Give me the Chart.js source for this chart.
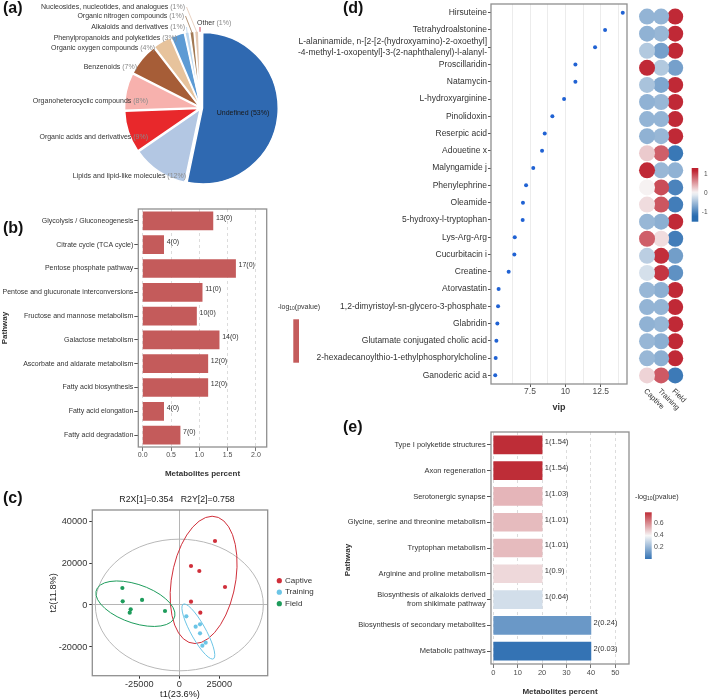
<!DOCTYPE html>
<html lang="en">
<head>
<meta charset="UTF-8">
<title>Metabolite classes, pathways, OPLS-DA scores and VIP</title>
<script src="https://cdn.jsdelivr.net/npm/chart.js"></script>
<style>
    body { margin: 0; background: #fff; }
    #figure { position: relative; width: 709px; height: 700px; overflow: hidden; background: #fff; }
    #figure canvas { position: absolute; }
    .tag { position: absolute; font: bold 16px/1 'Liberation Sans', Arial, sans-serif; color: #111; }
</style>
</head>
<body>
<div id="figure">
    <canvas id="pieChart" width="340" height="200" style="left:0px; top:0px"></canvas>
    <canvas id="pathwayChart" width="340" height="285" style="left:0px; top:200px"></canvas>
    <canvas id="scoreChart" width="300" height="215" style="left:40px; top:485px"></canvas>
    <canvas id="vipChart" width="377" height="420" style="left:255px; top:0px"></canvas>
    <canvas id="heatChart" width="77" height="420" style="left:632px; top:0px"></canvas>
    <canvas id="enrichChart" width="369" height="280" style="left:340px; top:420px"></canvas>
    <div class="tag" style="left:3px; top:0px">(a)</div>
    <div class="tag" style="left:3px; top:220px">(b)</div>
    <div class="tag" style="left:3px; top:490px">(c)</div>
    <div class="tag" style="left:343px; top:0px">(d)</div>
    <div class="tag" style="left:343px; top:419px">(e)</div>
</div>

<script>
    /***************************
            DATA
    ***************************/

    // (a) chemical classes
    const classNames = ['Undefined', 'Lipids and lipid-like molecules', 'Organic acids and derivatives',
        'Organoheterocyclic compounds', 'Benzenoids', 'Organic oxygen compounds',
        'Phenylpropanoids and polyketides', 'Alkaloids and derivatives', 'Organic nitrogen compounds',
        'Nucleosides, nucleotides, and analogues', 'Other'];
    const classPercent = [53, 12, 9, 8, 7, 4, 3, 1, 1, 1, 1];          // printed in the labels
    const classShare = [53, 12, 9, 8, 7, 4, 3, 1, 1, 1, 0.4];          // slice size as drawn

    // (b) KEGG pathways
    const pathwaysB = ['Glycolysis / Gluconeogenesis', 'Citrate cycle (TCA cycle)', 'Pentose phosphate pathway',
        'Pentose and glucuronate interconversions', 'Fructose and mannose metabolism', 'Galactose metabolism',
        'Ascorbate and aldarate metabolism', 'Fatty acid biosynthesis', 'Fatty acid elongation', 'Fatty acid degradation'];
    const percentB = [1.24, 0.37, 1.64, 1.05, 0.95, 1.35, 1.15, 1.15, 0.37, 0.66];
    const countB = [13, 4, 17, 11, 10, 14, 12, 12, 4, 7];
    const logpB = [0, 0, 0, 0, 0, 0, 0, 0, 0, 0];
    const ticksB = [0, 0.5, 1, 1.5, 2];

    // (c) OPLS-DA scores [t1, t2]
    const scoreGroups = ['Captive', 'Training', 'Field'];
    const captiveScores = [[22300, 30470], [7300, 18570], [12500, 16190], [28560, 8570], [7300, 1590], [13130, -3650]];
    const trainingScores = [[4400, -5400], [10210, -10300], [12940, -9200], [12940, -13500], [16460, -17940], [14400, -19370]];
    const fieldScores = [[-35600, 8100], [-35400, 1750], [-23300, 2400], [-30400, -2060], [-31000, -3650], [-8940, -2860]];
    const hotellingAxes = [52500, 31350];
    const t1Ticks = [-25000, 0, 25000];
    const t2Ticks = [-20000, 0, 20000, 40000];

    // (d) VIP and group z-scores
    const vipNames = ['Hirsuteine', 'Tetrahydroalstonine',
        ['L-alaninamide, n-[2-[2-(hydroxyamino)-2-oxoethyl]', '-4-methyl-1-oxopentyl]-3-(2-naphthalenyl)-l-alanyl-'],
        'Proscillaridin', 'Natamycin', 'L-hydroxyarginine', 'Pinolidoxin', 'Reserpic acid', 'Adouetine x',
        'Malyngamide j', 'Phenylephrine', 'Oleamide', '5-hydroxy-l-tryptophan', 'Lys-Arg-Arg', 'Cucurbitacin i',
        'Creatine', 'Atorvastatin', '1,2-dimyristoyl-sn-glycero-3-phosphate', 'Glabridin',
        'Glutamate conjugated cholic acid', '2-hexadecanoylthio-1-ethylphosphorylcholine', 'Ganoderic acid a'];
    const vipValues = [14.06, 12.81, 12.10, 10.71, 10.71, 9.91, 9.08, 8.54, 8.35, 7.73, 7.22,
        7.00, 6.98, 6.42, 6.39, 5.99, 5.28, 5.24, 5.19, 5.12, 5.07, 5.04];
    const zCaptive = [-0.58, -0.60, -0.40, 1.15, -0.45, -0.60, -0.58, -0.60, 0.25, 1.15, 0.03,
        0.15, -0.55, 0.85, -0.35, -0.20, -0.55, -0.58, -0.60, -0.55, -0.55, 0.20];
    const zTraining = [-0.58, -0.55, -0.75, -0.40, -0.70, -0.55, -0.58, -0.55, 0.85, -0.55, 0.95,
        0.90, -0.62, 0.15, 1.12, 1.08, -0.62, -0.58, -0.56, -0.62, -0.62, 0.88];
    const zField = [1.15, 1.15, 1.15, -0.75, 1.15, 1.15, 1.15, 1.15, -1.10, -0.60, -1.00,
        -1.05, 1.15, -1.05, -0.77, -0.88, 1.15, 1.15, 1.15, 1.15, 1.15, -1.08];
    const vipGridTicks = [6.25, 7.5, 8.75, 10, 11.25, 12.5, 13.75];
    const vipLabelTicks = [7.5, 10, 12.5];
    const heatLegendTicks = [1, 0, -1];

    // (e) enrichment
    const pathwaysE = ['Type I polyketide structures', 'Axon regeneration', 'Serotonergic synapse',
        'Glycine, serine and threonine metabolism', 'Tryptophan metabolism', 'Arginine and proline metabolism',
        ['Biosynthesis of alkaloids derived', 'from shikimate pathway'], 'Biosynthesis of secondary metabolites',
        'Metabolic pathways'];
    const percentE = [20, 20, 20, 20, 20, 20, 20, 40, 40];
    const countE = [1, 1, 1, 1, 1, 1, 1, 2, 2];
    const sigE = [1.54, 1.54, 1.03, 1.01, 1.01, 0.9, 0.64, 0.24, 0.03];
    const ticksE = [0, 10, 20, 30, 40, 50];
    const enrichLegendTicks = [0.2, 0.4, 0.6];


    /***************************
            STYLE HELPERS
    ***************************/

    const FONT = "'Liberation Sans', Arial, sans-serif";
    function font(size, weight) { return (weight ? weight + ' ' : '') + size + 'px ' + FONT; }

    Chart.defaults.font.family = FONT;
    Chart.defaults.color = '#333';
    Chart.defaults.animation = false;
    Chart.defaults.responsive = false;
    Chart.defaults.plugins.legend.display = false;
    Chart.defaults.plugins.tooltip.enabled = false;

    const classColors = ['#2f69b1', '#b3c7e3', '#e8282b', '#f7b1ad', '#a65d37', '#e7c39c',
        '#5d9bd4', '#bcd7ef', '#a27a55', '#e3c7b2', '#c8102e'];
    const barBColor = '#c45b5b';
    const groupColors = ['#d02f3a', '#6cc5e6', '#1e9c5c'];
    const HEAT_LO = [40, 108, 176], HEAT_MID = [247, 247, 247], HEAT_HI = [190, 32, 46];
    const ENR_LO = [52, 115, 180], ENR_MID = [247, 247, 247], ENR_HI = [190, 45, 55];

    function mix(a, b, t) {
        const c = a.map((v, i) => Math.round(v + (b[i] - v) * t));
        return `rgb(${c[0]}, ${c[1]}, ${c[2]})`;
    }
    // blue - white - red gradient, t in [0, 1]
    function gradientAt(t, lo, mid, hi) {
        t = Math.max(0, Math.min(1, t));
        return t < 0.5 ? mix(lo, mid, t / 0.5) : mix(mid, hi, (t - 0.5) / 0.5);
    }
    const heatColor = z => gradientAt((z + 1.2) / 2.4, HEAT_LO, HEAT_MID, HEAT_HI);
    const sigLo = Math.min(...sigE), sigHi = Math.max(...sigE);
    const enrichColor = s => gradientAt((s - sigLo) / (sigHi - sigLo), ENR_LO, ENR_MID, ENR_HI);

    function drawLogTitle(c, x, y, size) {
        c.fillStyle = '#333';
        c.textAlign = 'left';
        c.textBaseline = 'middle';
        c.font = font(size);
        c.fillText('-log', x, y);
        const w1 = c.measureText('-log').width;
        c.font = font(size * 0.7);
        c.fillText('10', x + w1, y + size * 0.3);
        const w2 = c.measureText('10').width;
        c.font = font(size);
        c.fillText('(pvalue)', x + w1 + w2, y);
    }

    // gray panel border like theme_bw
    const framePlugin = {
        id: 'frame',
        afterDatasetsDraw(chart) {
            const a = chart.chartArea, c = chart.ctx;
            c.save();
            c.strokeStyle = '#8f8f8f';
            c.lineWidth = 1.3;
            c.strokeRect(a.left, a.top, a.right - a.left, a.bottom - a.top);
            c.restore();
        }
    };

    const fixedTicks = list => s => { s.ticks = list.map(v => ({ value: v })); };


    /***************************
            (a) PIE
    ***************************/

    // text anchor [x, y, align, leader line]
    const classLabelSpots = [
        [243, 113, 'center', false], [186, 176, 'right', false], [148, 137, 'right', false],
        [148, 101, 'right', false], [137, 67, 'right', false], [155, 48, 'right', false],
        [177, 38, 'right', false], [185, 27, 'right', true], [184, 16, 'right', true],
        [185, 7, 'right', true], [197, 23, 'left', true]
    ];

    const pieLabels = {
        id: 'pieLabels',
        afterDatasetsDraw(chart) {
            const c = chart.ctx;
            const arcs = chart.getDatasetMeta(0).data;
            c.save();
            c.font = font(7);
            c.textBaseline = 'middle';
            c.textAlign = 'left';
            arcs.forEach((arc, i) => {
                const [x, y, align, leader] = classLabelSpots[i];
                const name = classNames[i] + ' ', pct = '(' + classPercent[i] + '%)';
                const wn = c.measureText(name).width, wp = c.measureText(pct).width;
                const x0 = align === 'right' ? x - wn - wp : align === 'center' ? x - (wn + wp) / 2 : x;
                c.fillStyle = align === 'center' ? '#1a1a1a' : '#333';
                c.fillText(name, x0, y);
                c.fillStyle = align === 'center' ? '#1a1a1a' : '#8a8a8a';
                c.fillText(pct, x0 + wn, y);
                if (leader) {
                    const mid = (arc.startAngle + arc.endAngle) / 2, r = arc.outerRadius + 2;
                    const ex = arc.x + Math.cos(mid) * r, ey = arc.y + Math.sin(mid) * r;
                    const sx = align === 'right' ? x + 1.5 : x0 + 3, sy = align === 'right' ? y : y + 4;
                    c.strokeStyle = classColors[i];
                    c.lineWidth = 0.8;
                    c.beginPath();
                    c.moveTo(sx, sy);
                    c.lineTo(ex, ey);
                    c.stroke();
                }
            });
            c.restore();
        }
    };

    new Chart(document.getElementById('pieChart'), {
        type: 'pie',
        data: {
            labels: classNames,
            datasets: [{ data: classShare, backgroundColor: classColors, borderColor: '#fff', borderWidth: 1.5, offset: 6 }]
        },
        options: { layout: { padding: { left: 123, right: 61, top: 30, bottom: 14 } } },
        plugins: [pieLabels]
    });


    /***************************
            (b) PATHWAY BARS
    ***************************/

    const pathwayDecor = {
        id: 'pathwayDecor',
        afterDatasetsDraw(chart) {
            const c = chart.ctx;
            c.save();
            c.fillStyle = '#333';
            c.textBaseline = 'middle';
            c.font = font(7);
            chart.getDatasetMeta(0).data.forEach((bar, i) => {
                c.fillText(`${countB[i]}(${logpB[i]})`, bar.x + 3, bar.y - 3);
            });
            drawLogTitle(c, 277.7, 106.7, 7);
            c.fillStyle = barBColor;
            c.fillRect(293.3, 119.3, 5.7, 43.4);
            c.restore();
        }
    };

    new Chart(document.getElementById('pathwayChart'), {
        type: 'bar',
        data: { labels: pathwaysB, datasets: [{ data: percentB, backgroundColor: barBColor, barThickness: 18 }] },
        options: {
            indexAxis: 'y',
            layout: { padding: { left: 0, right: 73.3, top: 9, bottom: 0 } },
            scales: {
                x: {
                    type: 'linear', min: -0.078, max: 2.19,
                    afterBuildTicks: fixedTicks(ticksB),
                    afterFit: s => { s.height = 38; s.paddingLeft = 0; s.paddingRight = 0; },
                    ticks: { callback: v => v.toFixed(1), font: { size: 7 }, color: '#4d4d4d', padding: 0, maxRotation: 0, autoSkip: false },
                    grid: { color: '#d4d4d4', lineWidth: 0.8, tickLength: 4, tickColor: '#555' },
                    border: { display: false, dash: [3, 3] },
                    title: { display: true, text: 'Metabolites percent', font: { size: 8, weight: 'bold' }, color: '#333', padding: { top: 0, bottom: 6.9 } }
                },
                y: {
                    afterFit: s => { s.width = 138.3; s.paddingTop = 0; s.paddingBottom = 0; },
                    ticks: { font: { size: 7 }, color: '#333', padding: 1, autoSkip: false },
                    grid: { drawOnChartArea: false, tickLength: 4, color: '#555', offset: false },
                    border: { display: false },
                    title: { display: true, text: 'Pathway', font: { size: 8, weight: 'bold' }, color: '#333', padding: { top: 0.2, bottom: 0 } }
                }
            }
        },
        plugins: [framePlugin, pathwayDecor]
    });


    /***************************
            (c) OPLS-DA SCORES
    ***************************/

    // 95% normal ellipse of a group (like stat_ellipse), from the scores themselves
    function groupEllipse(pts, color) {
        const n = pts.length;
        const mx = pts.reduce((s, p) => s + p[0], 0) / n;
        const my = pts.reduce((s, p) => s + p[1], 0) / n;
        let sxx = 0, syy = 0, sxy = 0;
        pts.forEach(p => {
            const dx = p[0] - mx, dy = p[1] - my;
            sxx += dx * dx; syy += dy * dy; sxy += dx * dy;
        });
        sxx /= n - 1; syy /= n - 1; sxy /= n - 1;
        const tr = sxx + syy, det = sxx * syy - sxy * sxy;
        const disc = Math.sqrt(Math.max(tr * tr / 4 - det, 0));
        const l1 = tr / 2 + disc, l2 = tr / 2 - disc;
        const r = Math.sqrt(5.991);
        return { m: [mx, my], axes: [r * Math.sqrt(l1), r * Math.sqrt(Math.max(l2, 0))], angle: Math.atan2(l1 - sxx, sxy), color };
    }

    const allScores = [captiveScores, trainingScores, fieldScores];

    const ellipsePlugin = {
        id: 'ellipses',
        beforeDatasetsDraw(chart) {
            const { ctx: c, chartArea: a, scales: { x, y } } = chart;
            const kx = x.getPixelForValue(1) - x.getPixelForValue(0);
            const ky = y.getPixelForValue(1) - y.getPixelForValue(0);
            const shapes = [{ m: [0, 0], axes: hotellingAxes, angle: 0, color: '#b8b8b8' }]
                .concat(allScores.map((pts, k) => groupEllipse(pts, groupColors[k])));
            c.save();
            c.beginPath();
            c.rect(a.left, a.top, a.right - a.left, a.bottom - a.top);
            c.clip();
            shapes.forEach(s => {
                c.save();
                c.translate(x.getPixelForValue(s.m[0]), y.getPixelForValue(s.m[1]));
                c.scale(kx, ky);
                c.rotate(s.angle);
                c.beginPath();
                c.ellipse(0, 0, s.axes[0], s.axes[1], 0, 0, Math.PI * 2);
                c.restore();
                c.strokeStyle = s.color;
                c.lineWidth = 1;
                c.stroke();
            });
            c.restore();
        }
    };

    const scoreDecor = {
        id: 'scoreDecor',
        afterDraw(chart) {
            const c = chart.ctx;
            c.save();
            c.fillStyle = '#222';
            c.textBaseline = 'middle';
            c.textAlign = 'center';
            c.font = font(8.8);
            c.fillText('R2X[1]=0.354   R2Y[2]=0.758', 137, 14.3);
            c.textAlign = 'left';
            c.font = font(8);
            scoreGroups.forEach((g, k) => {
                const yy = 95.7 + k * 11.5;
                c.fillStyle = groupColors[k];
                c.beginPath();
                c.arc(239.3, yy, 2.6, 0, Math.PI * 2);
                c.fill();
                c.fillStyle = '#333';
                c.fillText(g, 245, yy);
            });
            c.restore();
        }
    };

    const zeroLine = ctx => (ctx.tick && ctx.tick.value === 0 ? '#b5b5b5' : 'rgba(0,0,0,0)');

    new Chart(document.getElementById('scoreChart'), {
        type: 'scatter',
        data: {
            datasets: allScores.map((pts, k) => ({
                label: scoreGroups[k],
                data: pts.map(p => ({ x: p[0], y: p[1] })),
                pointRadius: 2.1, pointBorderWidth: 0, pointBackgroundColor: groupColors[k]
            }))
        },
        options: {
            layout: { padding: { left: 0, right: 72.3, top: 25, bottom: 0 } },
            scales: {
                x: {
                    type: 'linear', min: -54400, max: 55250,
                    afterBuildTicks: fixedTicks(t1Ticks),
                    afterFit: s => { s.height = 24.3; s.paddingLeft = 0; s.paddingRight = 0; },
                    ticks: { callback: v => String(v), font: { size: 9.2 }, color: '#333', padding: 0, maxRotation: 0, autoSkip: false },
                    grid: { color: zeroLine, tickColor: '#333', tickLength: 3 },
                    border: { display: false },
                    title: { display: true, text: 't1(23.6%)', font: { size: 9.2 }, color: '#222', padding: { top: 0, bottom: 0 } }
                },
                y: {
                    type: 'linear', min: -33670, max: 45240,
                    afterBuildTicks: fixedTicks(t2Ticks),
                    afterFit: s => { s.width = 52.3; s.paddingTop = 0; s.paddingBottom = 0; },
                    ticks: { callback: v => String(v), font: { size: 9.2 }, color: '#333', padding: 2, autoSkip: false },
                    grid: { color: zeroLine, tickColor: '#333', tickLength: 3 },
                    border: { display: false },
                    title: { display: true, text: 't2(11.8%)', font: { size: 9.2 }, color: '#222', padding: { top: 8, bottom: 0 } }
                }
            }
        },
        plugins: [ellipsePlugin, framePlugin, scoreDecor]
    });


    /***************************
            (d) VIP + HEATMAP
    ***************************/

    new Chart(document.getElementById('vipChart'), {
        type: 'scatter',
        data: {
            datasets: [{
                data: vipValues.map((v, i) => ({ x: v, y: i })),
                pointRadius: 2, pointBorderWidth: 0, pointBackgroundColor: '#2062d3'
            }]
        },
        options: {
            layout: { padding: { left: 0, right: 5, top: 4, bottom: 0 } },
            scales: {
                x: {
                    type: 'linear', min: 4.74, max: 14.36,
                    afterBuildTicks: fixedTicks(vipGridTicks),
                    afterFit: s => { s.height = 36; s.paddingLeft = 0; s.paddingRight = 0; },
                    ticks: { callback: v => (vipLabelTicks.includes(v) ? String(v) : ''), font: { size: 8.5 }, color: '#4d4d4d', padding: 0, maxRotation: 0, autoSkip: false },
                    grid: { color: '#ececec', tickLength: 3, tickColor: ctx => (ctx.tick && vipLabelTicks.includes(ctx.tick.value) ? '#555' : 'rgba(0,0,0,0)') },
                    border: { display: false },
                    title: { display: true, text: 'vip', font: { size: 9, weight: 'bold' }, color: '#333', padding: { top: 0, bottom: 6.6 } }
                },
                y: {
                    type: 'category', labels: vipNames, offset: true,
                    afterFit: s => { s.width = 236; s.paddingTop = 0; s.paddingBottom = 0; },
                    ticks: { font: { size: 8.5 }, color: '#333', padding: 1, autoSkip: false },
                    grid: { drawOnChartArea: false, tickLength: 3, color: '#555', offset: false },
                    border: { display: false }
                }
            }
        },
        plugins: [framePlugin]
    });

    const heatDecor = {
        id: 'heatDecor',
        afterDraw(chart) {
            const c = chart.ctx, xs = chart.scales.x, a = chart.chartArea;
            c.save();
            c.fillStyle = '#333';
            c.font = font(7.5);
            c.textAlign = 'left';
            c.textBaseline = 'middle';
            scoreGroups.forEach((g, j) => {
                c.save();
                c.translate(xs.getPixelForValue(j) - 2, a.bottom + 6);
                c.rotate(Math.PI / 4);
                c.fillText(g, 0, 0);
                c.restore();
            });
            // colour bar
            const top = 168, bottom = 221.7, vTop = 1.32, vBottom = -1.53;
            const yOf = v => top + (vTop - v) / (vTop - vBottom) * (bottom - top);
            const grad = c.createLinearGradient(0, top, 0, bottom);
            for (let k = 0; k <= 20; k++) {
                const v = vTop - (vTop - vBottom) * k / 20;
                grad.addColorStop(k / 20, heatColor(v));
            }
            c.fillStyle = grad;
            c.fillRect(59.7, top, 6.6, bottom - top);
            c.fillStyle = '#4d4d4d';
            c.font = font(6.5);
            c.textAlign = 'right';
            heatLegendTicks.forEach(v => c.fillText(String(v), 75.5, yOf(v)));
            c.restore();
        }
    };

    new Chart(document.getElementById('heatChart'), {
        type: 'scatter',
        data: {
            datasets: [zCaptive, zTraining, zField].map((zs, j) => ({
                data: zs.map((z, i) => ({ x: scoreGroups[j], y: i })),
                pointRadius: 8, pointBorderWidth: 0,
                pointBackgroundColor: zs.map(heatColor)
            }))
        },
        options: {
            layout: { padding: { left: 0.75, right: 26.75, top: 4, bottom: 36 } },
            scales: {
                x: { type: 'category', labels: scoreGroups, offset: true, display: false },
                y: { type: 'category', labels: vipNames, offset: true, display: false }
            }
        },
        plugins: [heatDecor]
    });


    /***************************
            (e) ENRICHMENT BARS
    ***************************/

    const enrichDecor = {
        id: 'enrichDecor',
        afterDatasetsDraw(chart) {
            const c = chart.ctx;
            c.save();
            c.fillStyle = '#333';
            c.textBaseline = 'middle';
            c.textAlign = 'left';
            c.font = font(7.5);
            chart.getDatasetMeta(0).data.forEach((bar, i) => {
                c.fillText(`${countE[i]}(${sigE[i]})`, bar.x + 2.7, bar.y - 2.6);
            });
            // axis title
            c.save();
            c.translate(7.3, 140);
            c.rotate(-Math.PI / 2);
            c.textAlign = 'center';
            c.font = font(8, 'bold');
            c.fillText('Pathway', 0, 0);
            c.restore();
            // legend
            drawLogTitle(c, 295, 76.7, 7.2);
            const top = 92.3, bottom = 139, legLo = 0.015, legHi = 0.77;
            const yOf = v => top + (legHi - v) / (legHi - legLo) * (bottom - top);
            const grad = c.createLinearGradient(0, top, 0, bottom);
            grad.addColorStop(0, mix(ENR_HI, ENR_HI, 0));
            grad.addColorStop(0.5, mix(ENR_MID, ENR_MID, 0));
            grad.addColorStop(1, mix(ENR_LO, ENR_LO, 0));
            c.fillStyle = grad;
            c.fillRect(305, top, 6.7, bottom - top);
            c.fillStyle = '#4d4d4d';
            c.font = font(7);
            enrichLegendTicks.forEach(v => c.fillText(v.toFixed(1), 314, yOf(v)));
            c.restore();
        }
    };

    new Chart(document.getElementById('enrichChart'), {
        type: 'bar',
        data: { labels: pathwaysE, datasets: [{ data: percentE, backgroundColor: sigE.map(enrichColor), barThickness: 18 }] },
        options: {
            indexAxis: 'y',
            layout: { padding: { left: 0, right: 80, top: 12, bottom: 0 } },
            scales: {
                x: {
                    type: 'linear', min: -0.94, max: 55.6,
                    afterBuildTicks: fixedTicks(ticksE),
                    afterFit: s => { s.height = 36; s.paddingLeft = 0; s.paddingRight = 0; },
                    ticks: { callback: v => String(v), font: { size: 7.5 }, color: '#4d4d4d', padding: 0, maxRotation: 0, autoSkip: false },
                    grid: { color: '#d4d4d4', lineWidth: 0.8, tickLength: 4, tickColor: '#555' },
                    border: { display: false, dash: [3, 3] },
                    title: { display: true, text: 'Metabolites percent', font: { size: 8, weight: 'bold' }, color: '#333', padding: { top: 0, bottom: 3.2 } }
                },
                y: {
                    afterFit: s => { s.width = 151; s.paddingTop = 0; s.paddingBottom = 0; },
                    ticks: { font: { size: 7.5 }, color: '#333', padding: 1.3, autoSkip: false },
                    grid: { drawOnChartArea: false, tickLength: 4, color: '#555', offset: false },
                    border: { display: false }
                }
            }
        },
        plugins: [framePlugin, enrichDecor]
    });
</script>
</body>
</html>
